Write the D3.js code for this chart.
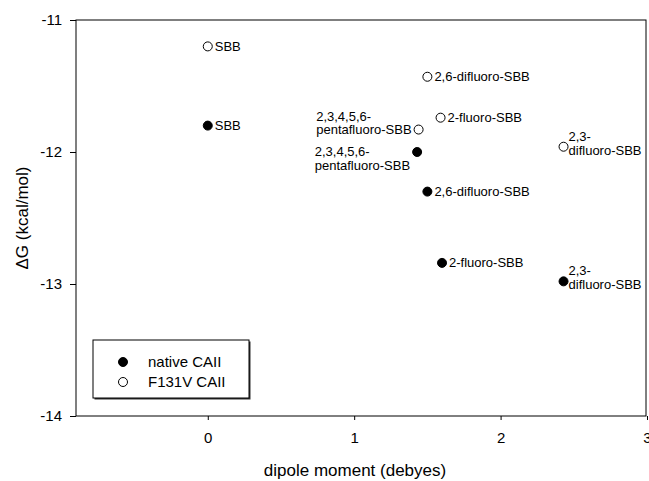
<!DOCTYPE html>
<html>
<head>
<meta charset="utf-8">
<script src="https://cdn.jsdelivr.net/npm/d3@7"></script>
<style>
  body { margin: 0; background: #fff; }
  text { font-family: "Liberation Sans", Arial, sans-serif; fill: #000; }
</style>
</head>
<body>
<svg width="649" height="481"></svg>
<script>
// native CAII (filled) and F131V CAII (open)
const nativeX = [0, 1.43, 1.50, 1.60, 2.43];
const nativeY = [-11.80, -12.00, -12.30, -12.84, -12.98];
const nativeLabels = ["SBB", "2,3,4,5,6-|pentafluoro-SBB", "2,6-difluoro-SBB", "2-fluoro-SBB", "2,3-|difluoro-SBB"];
const nativeSide = ["right", "left-down", "right", "right", "right"];

const mutantX = [0, 1.44, 1.50, 1.59, 2.43];
const mutantY = [-11.20, -11.83, -11.43, -11.74, -11.96];
const mutantLabels = ["SBB", "2,3,4,5,6-|pentafluoro-SBB", "2,6-difluoro-SBB", "2-fluoro-SBB", "2,3-|difluoro-SBB"];
const mutantSide = ["right", "left-up", "right", "right", "right"];

const xTicks = [0, 1, 2, 3];
const yTicks = [-11, -12, -13, -14];
const legendNames = ["native CAII", "F131V CAII"];

const svg = d3.select("svg");
const m = { left: 76, right: 646, top: 20, bottom: 416 };

const x = d3.scaleLinear().domain([-0.9, 3]).range([m.left, 647]);
const y = d3.scaleLinear().domain([-14, -11]).range([m.bottom, m.top]);

// frame
svg.append("rect")
    .attr("x", m.left).attr("y", m.top)
    .attr("width", m.right - m.left).attr("height", m.bottom - m.top)
    .attr("fill", "none").attr("stroke", "#000").attr("stroke-width", 1);

const xAxis = svg.append("g")
    .attr("transform", `translate(0,${m.bottom})`)
    .call(d3.axisBottom(x).tickValues(xTicks).tickSize(4).tickPadding(12).tickFormat(d3.format("d")));
const yAxis = svg.append("g")
    .attr("transform", `translate(${m.left},0)`)
    .call(d3.axisLeft(y).tickValues(yTicks).tickSize(6).tickPadding(8).tickFormat(d => d));
[xAxis, yAxis].forEach(g => {
    g.select(".domain").remove();
    g.selectAll("text").attr("font-size", 15).attr("font-family", "Liberation Sans, Arial, sans-serif");
});

svg.append("text")
    .attr("x", 355).attr("y", 476)
    .attr("text-anchor", "middle").attr("font-size", 17)
    .text("dipole moment (debyes)");
svg.append("text")
    .attr("transform", `translate(28,${(m.top + m.bottom) / 2}) rotate(-90)`)
    .attr("text-anchor", "middle").attr("font-size", 17)
    .text("\u0394G (kcal/mol)");

function drawSeries(xs, ys, labels, sides, fill) {
    const data = xs.map((d, i) => ({ x: d, y: ys[i], label: labels[i], side: sides[i] }));
    svg.selectAll(null)
        .data(data)
        .enter()
        .append("circle")
        .attr("cx", d => x(d.x))
        .attr("cy", d => y(d.y))
        .attr("r", 4.5)
        .attr("fill", fill)
        .attr("stroke", "#000")
        .attr("stroke-width", 1);

    data.forEach(d => {
        const lines = d.label.split("|");
        const px = x(d.x), py = y(d.y);
        const t = svg.append("text").attr("font-size", 13);
        if (d.side.startsWith("left")) {
            const y0 = d.side === "left-up" ? py - 9 : py + 4;
            const spans = lines.map((l, i) => t.append("tspan").attr("y", y0 + i * 13.5).text(l));
            const w = d3.max(spans, s => s.node().getComputedTextLength());
            spans.forEach(s => s.attr("x", px - 7 - w));
        } else if (lines.length > 1) {
            lines.forEach((l, i) => t.append("tspan").attr("x", px + 5).attr("y", py - 6 + i * 14).text(l));
        } else {
            t.attr("x", px + 7).attr("y", py + 4.5).text(lines[0]);
        }
    });
}

drawSeries(nativeX, nativeY, nativeLabels, nativeSide, "#000");
drawSeries(mutantX, mutantY, mutantLabels, mutantSide, "#fff");

// legend
const lg = svg.append("g");
lg.append("rect")
    .attr("x", 94.5).attr("y", 341.5).attr("width", 156).attr("height", 58)
    .attr("fill", "#333");
lg.append("rect")
    .attr("x", 93).attr("y", 340).attr("width", 156).attr("height", 58)
    .attr("fill", "#fff").attr("stroke", "#000").attr("stroke-width", 1);
legendNames.forEach((name, i) => {
    lg.append("circle")
        .attr("cx", 123).attr("cy", 362 + i * 20).attr("r", 4.5)
        .attr("fill", i === 0 ? "#000" : "#fff").attr("stroke", "#000");
    lg.append("text")
        .attr("x", 148).attr("y", 367 + i * 20).attr("font-size", 15)
        .text(name);
});
</script>
</body>
</html>
